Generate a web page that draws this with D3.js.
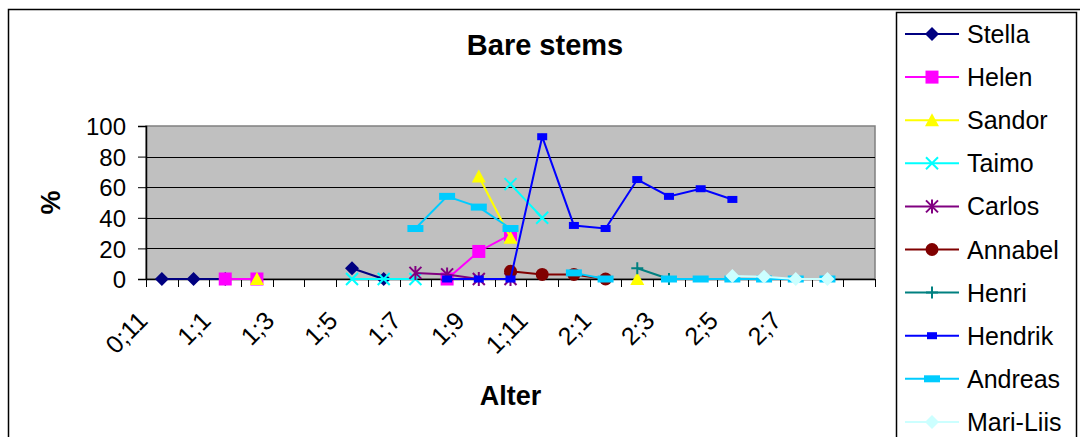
<!DOCTYPE html>
<html>
<head>
<meta charset="utf-8">
<script src="https://cdn.jsdelivr.net/npm/d3@7"></script>
<style>
  html, body { margin: 0; padding: 0; background: #fff; }
  svg { display: block; font-family: "Liberation Sans", Arial, sans-serif; }
</style>
</head>
<body>
<div id="area"></div>
<script>
let width = 1080
let height = 437

// categories: age (years;months), only every second one gets a label
let categories = ['0;11', '1;0', '1;1', '1;2', '1;3', '1;4', '1;5', '1;6', '1;7', '1;8', '1;9', '1;10',
                  '1;11', '2;0', '2;1', '2;2', '2;3', '2;4', '2;5', '2;6', '2;7', '2;8', '']
let yTicks = [0, 20, 40, 60, 80, 100]

let names = ['Stella', 'Helen', 'Sandor', 'Taimo', 'Carlos', 'Annabel', 'Henri', 'Hendrik', 'Andreas', 'Mari-Liis']

let _ = null
let stella   = [0, 0, 0, _, _, _, 7, 0, _, _, _, _, _, _, _, _, _, _, _, _, _, _, _]
let helen    = [_, _, 0, 0, _, _, _, _, _, 0, 18, 29, _, _, _, _, _, _, _, _, _, _, _]
let sandor   = [_, _, _, 0, _, _, _, _, _, _, 67, 27, _, _, _, 0, _, _, _, _, _, _, _]
let taimo    = [_, _, _, _, _, _, 0, 0, 0, _, _, 62, 40, _, _, _, _, _, _, _, _, _, _]
let carlos   = [_, _, _, _, _, _, _, _, 4, 3, 0, 0, _, _, _, _, _, _, _, _, _, _, _]
let annabel  = [_, _, _, _, _, _, _, _, _, _, _, 5, 3, 3, 0, _, _, _, _, _, _, _, _]
let henri    = [_, _, _, _, _, _, _, _, _, _, _, _, _, _, _, 7, 0, _, _, _, _, _, _]
let hendrik  = [_, _, _, _, _, _, _, _, _, 0, 0, 0, 93, 35, 33, 65, 54, 59, 52, _, _, _, _]
let andreas  = [_, _, _, _, _, _, _, _, 33, 54, 47, 33, _, 4, 0, _, 0, 0, 0, 0, 0, 0, _]
let mariliis = [_, _, _, _, _, _, _, _, _, _, _, _, _, _, _, _, _, _, 2, 1.5, 0, 0, _]

let seriesValues = [stella, helen, sandor, taimo, carlos, annabel, henri, hendrik, andreas, mariliis]
let colors = ['#000080', '#FF00FF', '#FFFF00', '#00FFFF', '#800080', '#800000', '#008080', '#0000FF', '#00CCFF', '#CCFFFF']
let markers = ['diamond', 'square', 'triangle', 'times', 'asterisk', 'circle', 'plus', 'smallrect', 'widerect', 'diamond']

let plot = {left: 146, right: 875, top: 126, bottom: 279}
let font = '"Liberation Sans", Arial, sans-serif'

let svg = d3.select('#area').append('svg')
  .attr('width', width).attr('height', height)

// outer chart frame
svg.append('rect')
  .attr('x', 8.5).attr('y', 9.5)
  .attr('width', width + 20).attr('height', height + 20)
  .attr('fill', '#fff').attr('stroke', '#000').attr('stroke-width', 1.5)

let x = d3.scaleBand().domain(d3.range(categories.length)).range([plot.left, plot.right]).padding(0)
let y = d3.scaleLinear().domain([0, 100]).range([plot.bottom, plot.top])
let cx = i => x(i) + x.bandwidth() / 2

// plot background
svg.append('rect')
  .attr('x', plot.left).attr('y', plot.top)
  .attr('width', plot.right - plot.left).attr('height', plot.bottom - plot.top)
  .attr('fill', '#C0C0C0').attr('stroke', '#808080').attr('stroke-width', 1.5)

// gridlines
svg.append('g').selectAll('line').data(yTicks.filter(d => d > 0 && d < 100)).join('line')
  .attr('x1', plot.left).attr('x2', plot.right)
  .attr('y1', d => Math.round(y(d)) + 0.5).attr('y2', d => Math.round(y(d)) + 0.5)
  .attr('stroke', '#000').attr('stroke-width', 1)

// y axis
let yAxis = svg.append('g')
  .attr('transform', 'translate(' + plot.left + ',0)')
  .call(d3.axisLeft(y).tickValues(yTicks).tickSize(8).tickPadding(12))
yAxis.select('.domain').attr('stroke', '#000').attr('stroke-width', 1.5)
yAxis.selectAll('.tick line').attr('stroke', '#000')
yAxis.selectAll('.tick text')
  .attr('font-size', '24px').attr('font-family', font).attr('fill', '#000')
  .attr('dy', '0.36em')

// x axis: ticks between categories
let xAxisG = svg.append('g')
xAxisG.append('line')
  .attr('x1', plot.left).attr('x2', plot.right)
  .attr('y1', plot.bottom + 0.5).attr('y2', plot.bottom + 0.5)
  .attr('stroke', '#000').attr('stroke-width', 1.5)
xAxisG.selectAll('line.tk').data(d3.range(categories.length + 1)).join('line')
  .attr('class', 'tk')
  .attr('x1', i => Math.round(i < categories.length ? x(i) : plot.right) + 0.5)
  .attr('x2', i => Math.round(i < categories.length ? x(i) : plot.right) + 0.5)
  .attr('y1', plot.bottom).attr('y2', plot.bottom + 8)
  .attr('stroke', '#000')
xAxisG.selectAll('text').data(categories.map((c, i) => ({c, i})).filter(d => d.i % 2 == 0 && d.c != '')).join('text')
  .attr('transform', d => 'translate(' + (cx(d.i) - 19) + ',' + (plot.bottom + 37) + ') rotate(-45)')
  .attr('text-anchor', 'end')
  .attr('dy', '0.35em')
  .attr('font-size', '25px').attr('font-family', font)
  .text(d => d.c)

// titles
svg.append('text')
  .attr('x', 545).attr('y', 55)
  .attr('text-anchor', 'middle')
  .attr('font-size', '29px').attr('font-weight', 'bold').attr('font-family', font)
  .text('Bare stems')
svg.append('text')
  .attr('x', (plot.left + plot.right) / 2).attr('y', 405)
  .attr('text-anchor', 'middle')
  .attr('font-size', '27px').attr('font-weight', 'bold').attr('font-family', font)
  .text('Alter')
svg.append('text')
  .attr('transform', 'translate(60,' + ((plot.top + plot.bottom) / 2) + ') rotate(-90)')
  .attr('text-anchor', 'middle')
  .attr('font-size', '27px').attr('font-weight', 'bold').attr('font-family', font)
  .text('%')

// draws one marker centred on 0,0 inside group g
function drawMarker(g, kind, color) {
  switch (kind) {
    case 'diamond':
      g.append('path').attr('d', 'M0,-7L7,0L0,7L-7,0Z').attr('fill', color)
      break
    case 'square':
      g.append('rect').attr('x', -6.5).attr('y', -6.5).attr('width', 13).attr('height', 13).attr('fill', color)
      break
    case 'triangle':
      g.append('path').attr('d', 'M0,-7L7,6L-7,6Z').attr('fill', color)
      break
    case 'times':
      g.append('path').attr('d', 'M-6,-6L6,6M-6,6L6,-6').attr('stroke', color).attr('stroke-width', 2).attr('fill', 'none')
      break
    case 'asterisk':
      g.append('path').attr('d', 'M-6,-6L6,6M-6,6L6,-6M0,-7L0,7').attr('stroke', color).attr('stroke-width', 2).attr('fill', 'none')
      break
    case 'circle':
      g.append('circle').attr('r', 6.5).attr('fill', color)
      break
    case 'plus':
      g.append('path').attr('d', 'M-6,0L6,0M0,-6L0,6').attr('stroke', color).attr('stroke-width', 2).attr('fill', 'none')
      break
    case 'smallrect':
      g.append('rect').attr('x', -5).attr('y', -3.5).attr('width', 10).attr('height', 7).attr('fill', color)
      break
    case 'widerect':
      g.append('rect').attr('x', -8).attr('y', -3.5).attr('width', 16).attr('height', 7).attr('fill', color)
      break
  }
}

let line = d3.line()
  .defined(d => d.v != null)
  .x(d => cx(d.i))
  .y(d => y(d.v))

seriesValues.forEach(function(vals, s) {
  let pts = vals.map((v, i) => ({v, i}))
  let g = svg.append('g').attr('class', 'series')
  g.append('path')
    .attr('d', line(pts))
    .attr('fill', 'none')
    .attr('stroke', colors[s])
    .attr('stroke-width', 2)
  pts.filter(d => d.v != null).forEach(function(d) {
    let m = g.append('g').attr('transform', 'translate(' + cx(d.i) + ',' + y(d.v) + ')')
    drawMarker(m, markers[s], colors[s])
  })
})

// legend
let legend = svg.append('g')
legend.append('rect')
  .attr('x', 896.5).attr('y', 12.5).attr('width', 180).attr('height', 440)
  .attr('fill', '#fff').attr('stroke', '#000').attr('stroke-width', 1.5)
names.forEach(function(n, s) {
  let ly = 34 + s * 43.1
  let it = legend.append('g').attr('transform', 'translate(932,' + ly + ')')
  it.append('line').attr('x1', -27).attr('x2', 27).attr('stroke', colors[s]).attr('stroke-width', 2)
  drawMarker(it, markers[s], colors[s])
  it.append('text')
    .attr('x', 35).attr('dy', '0.36em')
    .attr('font-size', '25px').attr('font-family', font)
    .text(n)
})
</script>
</body>
</html>
